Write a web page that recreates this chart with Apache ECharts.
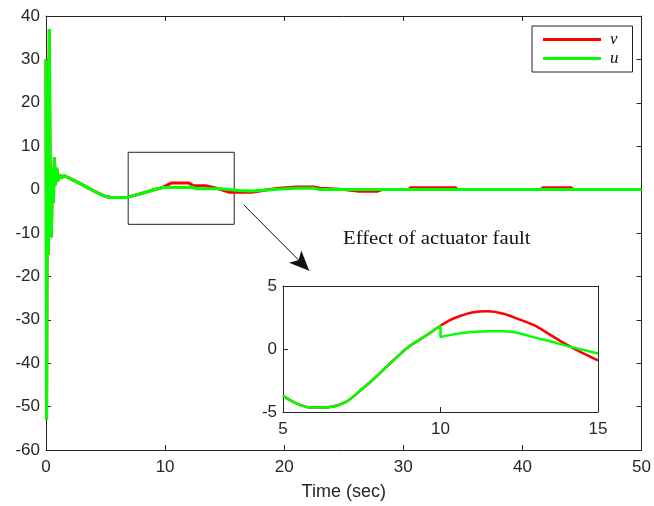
<!DOCTYPE html>
<html>
<head>
<meta charset="utf-8">
<script src="https://cdn.jsdelivr.net/npm/echarts@6/dist/echarts.min.js"></script>
<style>
html,body{margin:0;padding:0;background:#fff;}
#chart{width:654px;height:506px;}
</style>
</head>
<body>
<div id="chart"></div>
<script>
// ---- main plot data (0..50 s) ----
var mainTimeV = [0, 0.05, 0.12, 0.2, 0.28, 0.36, 0.45, 0.55, 0.62, 0.7, 0.8, 0.9, 1.0, 1.15, 1.3, 1.5, 2, 3, 4, 5, 5.5, 6.8, 8, 9, 9.8, 10.5, 11, 12, 12.4, 13.4, 14.5, 15.4, 17.3, 18.5, 19.5, 20.5, 21, 22.5, 23, 25, 26.3, 27.8, 28.2, 30.4, 30.6, 34.4, 34.6, 41.5, 41.7, 44.1, 44.3, 50];
var mainV     = [30, -53, 20, -15, 37, -5, -11, 5, -3, 7.5, 1, 5, 2, 3.5, 2.6, 3.2, 2.6, 1.2, -0.3, -1.6, -1.8, -1.8, -0.9, -0.1, 0.5, 1.5, 1.5, 1.5, 0.9, 0.9, 0.2, -0.6, -0.6, -0.1, 0.3, 0.5, 0.6, 0.6, 0.3, 0, -0.4, -0.4, 0, 0, 0.4, 0.4, 0, 0, 0.4, 0.4, 0, 0];
var mainTimeU = [0, 0.05, 0.12, 0.2, 0.28, 0.36, 0.45, 0.55, 0.62, 0.7, 0.8, 0.9, 1.0, 1.15, 1.3, 1.5, 2, 3, 4, 5, 5.5, 6.8, 8, 9, 9.8, 12.3, 12.6, 14.7, 16.2, 17.3, 19.4, 21, 22.5, 23, 50];
var mainU     = [30, -53, 20, -15, 37, -5, -11, 5, -3, 7.5, 1, 5, 2, 3.5, 2.6, 3.2, 2.6, 1.2, -0.3, -1.6, -1.8, -1.8, -0.9, -0.1, 0.5, 0.55, 0.2, 0.2, -0.2, -0.3, 0.1, 0.3, 0.3, 0, 0];

// ---- inset data (5..15 s) ----
var insetTimeV = [5, 5.25, 5.5, 5.75, 6, 6.5, 7, 7.5, 8, 8.5, 9, 9.5, 10, 10.3, 10.6, 11, 11.5, 12, 12.5, 13, 13.5, 14, 14.5, 15];
var insetV     = [-3.7, -4.1, -4.4, -4.6, -4.65, -4.6, -4.2, -3.2, -2.1, -0.9, 0.2, 1.0, 1.85, 2.3, 2.6, 2.9, 3.0, 2.8, 2.35, 1.85, 1.1, 0.35, -0.3, -0.9];
var insetTimeU = [5, 5.25, 5.5, 5.75, 6, 6.5, 7, 7.5, 8, 8.5, 9, 9.5, 10, 10, 10.5, 11, 11.5, 12, 12.5, 13, 13.5, 14, 14.5, 15];
var insetU     = [-3.7, -4.1, -4.4, -4.6, -4.65, -4.6, -4.2, -3.2, -2.1, -0.9, 0.2, 1.0, 1.85, 0.95, 1.2, 1.35, 1.4, 1.4, 1.25, 0.9, 0.6, 0.25, -0.05, -0.35];

// ticks
var mainXTicks = [0, 10, 20, 30, 40, 50];
var mainYTicks = [-60, -50, -40, -30, -20, -10, 0, 10, 20, 30, 40];
var insetXTicks = [5, 10, 15];
var insetYTicks = [-5, 0, 5];

// annotation
var zoomBox = [[6.9, 8.6], [15.8, -8.0]];
var arrowFromTo = [[16.6, -3.5], [22.1, -18.7]];
var annotationText = 'Effect of actuator fault';

function pairs(t, v) { return t.map(function (x, i) { return [x, v[i]]; }); }

var AX = '#262626';
var sans = 'Liberation Sans';

function xAx(grid, min, max, ticks, pos, showLabel, extra) {
  var o = {
    type: 'value', gridIndex: grid, min: min, max: max,
    interval: ticks[1] - ticks[0], position: pos,
    axisLine: { show: true, onZero: false, lineStyle: { color: AX, width: 1 } },
    axisTick: { show: true, inside: true, length: 5, lineStyle: { color: AX } },
    axisLabel: { show: showLabel, color: AX, fontSize: 17, fontFamily: sans, margin: 9 },
    splitLine: { show: false }
  };
  for (var k in extra) o[k] = extra[k];
  return o;
}
function yAx(grid, min, max, ticks, pos, showLabel, tick) {
  return {
    type: 'value', gridIndex: grid, min: min, max: max,
    interval: ticks[1] - ticks[0], position: pos,
    axisLine: { show: true, onZero: false, lineStyle: { color: AX, width: 1 } },
    axisTick: { show: tick, inside: true, length: 5, lineStyle: { color: AX } },
    axisLabel: { show: showLabel, color: AX, fontSize: 17, fontFamily: sans, margin: 6 },
    splitLine: { show: false }
  };
}

var chart = echarts.init(document.getElementById('chart'), null, { renderer: 'canvas' });
var option = {
  backgroundColor: '#fff',
  animation: false,
  grid: [
    { left: 46, top: 16, right: 10, bottom: 53 },
    { left: 283, top: 286, right: 56, bottom: 94, show: true, backgroundColor: '#fff', borderWidth: 0 }
  ],
  legend: {
    data: ['v', 'u'],
    orient: 'vertical',
    left: 532, top: 26,
    icon: 'rect', itemWidth: 58, itemHeight: 3, itemGap: 2,
    padding: [5, 14, 5, 11],
    borderColor: '#222', borderWidth: 1, backgroundColor: '#fff',
    textStyle: { fontFamily: 'Liberation Serif', fontStyle: 'italic', fontSize: 17, color: '#111', padding: [0, 0, 0, 4] }
  },
  xAxis: [
    xAx(0, 0, 50, mainXTicks, 'bottom', true, {
      name: 'Time (sec)', nameLocation: 'middle', nameGap: 33,
      nameTextStyle: { fontSize: 18, fontFamily: sans, color: AX }
    }),
    xAx(0, 0, 50, mainXTicks, 'top', false, {}),
    xAx(1, 5, 15, insetXTicks, 'bottom', true, {}),
    xAx(1, 5, 15, insetXTicks, 'top', false, { axisTick: { show: false } })
  ],
  yAxis: [
    yAx(0, -60, 40, mainYTicks, 'left', true, true),
    yAx(0, -60, 40, mainYTicks, 'right', false, true),
    yAx(1, -5, 5, insetYTicks, 'left', true, true),
    yAx(1, -5, 5, insetYTicks, 'right', false, false)
  ],
  graphic: [
    { type: 'text', x: 343, y: 230, scaleX: 1.15, style: { text: annotationText, font: '18px "Liberation Serif"', fill: '#111' } }
  ],
  series: [
    {
      name: 'v', type: 'line', xAxisIndex: 0, yAxisIndex: 0, showSymbol: false,
      data: pairs(mainTimeV, mainV), color: '#ff0000', lineStyle: { width: 3, color: '#ff0000' },
      markArea: {
        silent: true,
        itemStyle: { color: 'rgba(0,0,0,0)', borderColor: '#222', borderWidth: 1 },
        data: [[{ coord: zoomBox[0] }, { coord: zoomBox[1] }]]
      },
      markLine: {
        silent: true, symbol: ['none', 'arrow'], symbolSize: [13, 20],
        lineStyle: { color: '#111', width: 1, type: 'solid' }, label: { show: false },
        data: [[{ coord: arrowFromTo[0] }, { coord: arrowFromTo[1] }]]
      }
    },
    {
      name: 'u', type: 'line', xAxisIndex: 0, yAxisIndex: 0, showSymbol: false,
      data: pairs(mainTimeU, mainU), color: '#00ff00', lineStyle: { width: 3, color: '#00ff00' }
    },
    {
      name: 'v', type: 'line', xAxisIndex: 2, yAxisIndex: 2, showSymbol: false, smooth: 0.3,
      data: pairs(insetTimeV, insetV), color: '#ff0000', lineStyle: { width: 2.5, color: '#ff0000' }
    },
    {
      name: 'u', type: 'line', xAxisIndex: 2, yAxisIndex: 2, showSymbol: false, smooth: 0.3,
      data: pairs(insetTimeU, insetU), color: '#00ff00', lineStyle: { width: 2.5, color: '#00ff00' }
    }
  ]
};
chart.setOption(option);
</script>
</body>
</html>
